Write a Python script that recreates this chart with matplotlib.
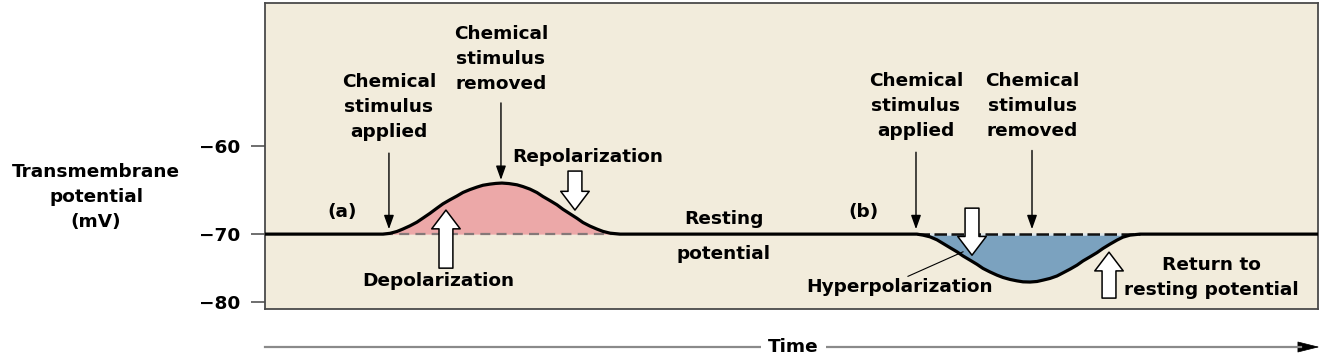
import numpy as np
import matplotlib
matplotlib.use("Agg")
import matplotlib.pyplot as plt
from matplotlib.patches import FancyArrowPatch
from matplotlib.lines import Line2D

# time axis is arbitrary (0 .. 105.3), potential in mV
resting = -70
time_a = [11.8, 12.5, 13.2, 13.8, 14.5, 15.2, 15.8, 16.5, 17.2, 17.8, 18.5, 19.2,
          19.8, 20.5, 21.2, 21.8, 22.5, 23.1, 23.7, 24.4, 25.2, 25.8, 26.5, 27.2,
          27.8, 28.5, 29.2, 29.8, 30.5, 31.2, 31.8, 32.5, 33.2, 33.8, 34.5, 35.5]
mv_a = [-70.0, -69.91, -69.70, -69.42, -69.06, -68.64, -68.18, -67.64, -67.05,
        -66.56, -66.10, -65.67, -65.27, -64.94, -64.66, -64.45, -64.32, -64.24,
        -64.20, -64.26, -64.40, -64.60, -64.89, -65.28, -65.73, -66.19, -66.67,
        -67.18, -67.69, -68.20, -68.68, -69.09, -69.43, -69.69, -69.89, -70.0]
time_b = [65.2, 65.8, 66.5, 67.2, 67.8, 68.5, 69.2, 69.8, 70.5, 71.2, 71.8, 72.5,
          73.2, 73.8, 74.5, 75.2, 75.8, 76.5, 77.2, 77.8, 78.5, 79.2, 79.8, 80.5,
          81.2, 81.8, 82.5, 83.2, 83.8, 84.5, 85.2, 85.8, 86.5, 87.5]
mv_b = [-70.0, -70.15, -70.40, -70.84, -71.37, -71.99, -72.60, -73.21, -73.82,
        -74.44, -75.04, -75.56, -76.03, -76.37, -76.66, -76.87, -77.01, -77.04,
        -76.96, -76.76, -76.51, -76.15, -75.69, -75.15, -74.56, -73.94, -73.34,
        -72.72, -72.10, -71.47, -70.88, -70.44, -70.15, -70.0]
applied_a, removed_a = 12.4, 23.6
applied_b, removed_b = 65.1, 76.7
yticks = [-80, -70, -60]

t_start, t_end = 0, 105.3
trace_t = [t_start] + time_a + time_b + [t_end]
trace_v = [resting] + mv_a + mv_b + [resting]

BG = "#f2ecdc"
PINK = "#eca8a8"
BLUE = "#7ba2bf"
FS = 13.3
LS = 1.5
plt.rcParams['font.family'] = ['DejaVu Sans']


# the drawing squeezes the part below -70 mV
def fwd(v):
    v = np.asarray(v, float)
    return np.where(v < -70, -70 + (v + 70) * 0.773, v)


def inv(v):
    v = np.asarray(v, float)
    return np.where(v < -70, -70 + (v + 70) / 0.773, v)


fig = plt.figure(figsize=(13.3, 3.57), dpi=100)
ax = fig.add_axes([0.1992, 0.1345, 0.7918, 0.8571])
ax.set_facecolor(BG)
ax.set_yscale('function', functions=(fwd, inv))
ax.set_xlim(t_start, t_end)
ax.set_ylim(-81.0, -43.75)

ax.fill_between(time_a, mv_a, resting, color=PINK, lw=0, zorder=1)
ax.fill_between(time_b, mv_b, resting, color=BLUE, lw=0, zorder=1)
ax.plot([time_a[0], time_a[-1]], [resting, resting], color="#857878", lw=1.6,
        dashes=(4.5, 2.8), zorder=2)
ax.plot([time_b[0], time_b[-1]], [resting, resting], color="#111111", lw=1.8,
        dashes=(5, 1.8), gapcolor="#dfe7ea", zorder=2)
ax.plot(trace_t, trace_v, color="black", lw=2.3, solid_joinstyle="round", zorder=3)

ax.set_xticks([])
ax.set_yticks(yticks)
ax.tick_params(axis="y", length=10, width=1.2, color="#555555", pad=8,
               labelsize=FS)
for lbl in ax.get_yticklabels():
    lbl.set_fontweight("bold")
for sp in ax.spines.values():
    sp.set_color("#4a4a4a")
    sp.set_linewidth(1.3)

txt = dict(ha="center", va="center", fontsize=FS, fontweight="bold",
           linespacing=LS, zorder=5)
ax.text(applied_a, -55.6, "Chemical\nstimulus\napplied", **txt)
ax.text(removed_a, -50.1, "Chemical\nstimulus\nremoved", **txt)
ax.text(32.3, -61.25, "Repolarization", **txt)
ax.text(7.7, -67.5, "(a)", **txt)
ax.text(17.3, -76.9, "Depolarization", **txt)
ax.text(45.9, -68.3, "Resting", **txt)
ax.text(45.9, -72.9, "potential", **txt)
ax.text(59.9, -67.5, "(b)", **txt)
ax.text(applied_b, -55.45, "Chemical\nstimulus\napplied", **txt)
ax.text(removed_b, -55.45, "Chemical\nstimulus\nremoved", **txt)
ax.text(63.5, -77.8, "Hyperpolarization", **txt)
ax.text(94.6, -76.4, "Return to\nresting potential", **txt)

# thin stimulus arrows
thin = dict(arrowstyle="-|>,head_length=0.7,head_width=0.25", color="black",
            lw=1.0, shrinkA=0, shrinkB=1, mutation_scale=12)
ax.annotate("", xy=(applied_a, -69.6), xytext=(applied_a, -60.8), arrowprops=thin)
ax.annotate("", xy=(removed_a, -64.0), xytext=(removed_a, -55.1), arrowprops=thin)
ax.annotate("", xy=(applied_b, -69.6), xytext=(applied_b, -60.7), arrowprops=thin)
ax.annotate("", xy=(removed_b, -69.6), xytext=(removed_b, -60.5), arrowprops=thin)

# hollow block arrows
block = dict(arrowstyle="simple,head_length=1.35,head_width=2.05,tail_width=1.0",
             fc="white", ec="black", lw=1.1, shrinkA=0, shrinkB=0,
             mutation_scale=10)
ax.annotate("", xy=(18.1, -67.27), xytext=(18.1, -75.0), arrowprops=block, zorder=4)
ax.annotate("", xy=(31.0, -67.27), xytext=(31.0, -62.84), arrowprops=block, zorder=4)
ax.annotate("", xy=(70.7, -73.1), xytext=(70.7, -67.05), arrowprops=block, zorder=4)
ax.annotate("", xy=(84.4, -72.65), xytext=(84.4, -79.4), arrowprops=block, zorder=4)

# leader line for hyperpolarization
ax.plot([64.3, 69.8], [-76.2, -72.6], color="black", lw=0.8, zorder=4)

fig.text(0.0722, 0.448, "Transmembrane\npotential\n(mV)", ha="center",
         va="center", fontsize=FS, fontweight="bold", linespacing=LS)

# time arrow under the plot: grey shaft, black head
ty = 1 - 347 / 357
fig.add_artist(Line2D([0.1992, 0.978], [ty, ty], transform=fig.transFigure,
                      color="#8a8a8a", lw=1.6))
fig.add_artist(FancyArrowPatch((0.975, ty), (0.992, ty),
                               transform=fig.transFigure,
                               arrowstyle="-|>,head_length=1.44,head_width=0.36",
                               mutation_scale=10, color="black", lw=0.5,
                               shrinkA=0, shrinkB=0))
fig.text(0.5965, ty, "Time", ha="center", va="center", fontsize=FS,
         fontweight="bold", zorder=5,
         bbox=dict(fc="white", ec="none", pad=5))

fig.savefig("out.png", dpi=100, facecolor="white")
